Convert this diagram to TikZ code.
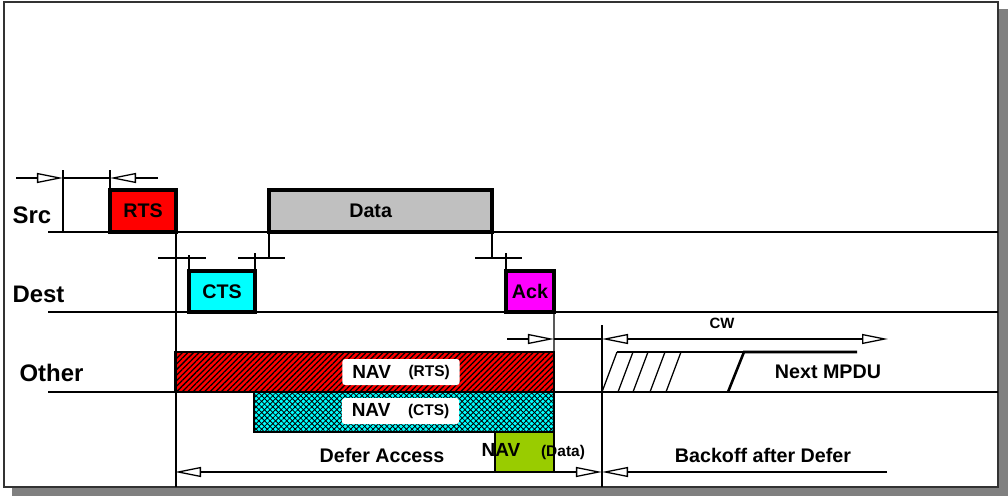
\documentclass[tikz,border=0pt]{standalone}
\usepackage{fontspec}
\setmainfont{Liberation Sans}
\usepackage{tikz}
\usetikzlibrary{arrows.meta, patterns.meta}

\definecolor{navgreen}{RGB}{153,204,0}
\definecolor{rtsred}{RGB}{255,0,0}
\definecolor{ctscyan}{RGB}{0,255,255}
\definecolor{ackmagenta}{RGB}{255,0,255}
\definecolor{datagray}{RGB}{192,192,192}
\definecolor{shadowgray}{RGB}{128,128,128}
\newcommand{\bigtxt}{\fontsize{14}{16}\selectfont\bfseries}
\newcommand{\smalltxt}[1]{{\fontsize{11}{13}\selectfont\bfseries #1}}

\tikzset{
  tri/.tip={Triangle[length=0.65cm, width=0.25cm, fill=white]},
  lane/.style={font=\fontsize{17}{20}\selectfont\bfseries, anchor=base west, inner sep=0pt},
  slotbox/.style={draw=black, line width=2.2pt, inner sep=0pt, outer sep=0pt, font=\bigtxt},
  navbox/.style={draw, line width=0.8pt, inner sep=0pt, outer sep=0pt},
  navtag/.style={fill=white, rounded corners=2pt, inner xsep=7pt, inner ysep=0pt,
    minimum height=0.65cm, font=\fontsize{13.5}{16}\selectfont\bfseries},
  txt/.style={font=\bigtxt, anchor=base, inner sep=0pt},
}

\begin{document}
\begin{tikzpicture}[x=0.025cm, y=-0.025cm, line width=0.9pt]

\useasboundingbox (0,0) rectangle (1008,496);
\fill[shadowgray] (12,9) rectangle (1008,496);
\draw[fill=white, draw=black!80, line width=1.4pt] (4,2) rectangle (998,487);

\coordinate (srcL) at (48,232);
\coordinate (srcR) at (998,232);
\coordinate (destL) at (48,312);
\coordinate (destR) at (998,312);
\coordinate (otherL) at (48,392);
\coordinate (otherR) at (998,392);
\draw (srcL) -- (srcR);
\draw (destL) -- (destR);
\draw (otherL) -- (otherR);

\node[lane] (src) at (12,223) {Src};
\node[lane] (dest) at (12,302) {Dest};
\node[lane] (other) at (19,381) {Other};

\node[slotbox, fill=rtsred, minimum width=1.65cm, minimum height=1.05cm] (rts) at (143,211) {RTS};
\node[slotbox, fill=ctscyan, minimum width=1.65cm, minimum height=1.025cm] (cts) at (222,291.5) {CTS};
\node[slotbox, fill=datagray, minimum width=5.575cm, minimum height=1.05cm] (data) at (380.5,211) {Data\kern14pt};
\node[slotbox, fill=ackmagenta, minimum width=1.2cm, minimum height=1.025cm] (ack) at (530,291.5) {Ack};

\node[navbox, fill=rtsred, postaction={pattern={Lines[angle=45, distance=2.8pt, line width=0.9pt]}},
  minimum width=9.475cm, minimum height=1cm] (navrts) at (364.5,372) {};
\node[navbox, fill=ctscyan, postaction={pattern={Lines[angle=45, distance=2.8pt, line width=0.6pt]}},
  postaction={pattern={Lines[angle=-45, distance=2.8pt, line width=0.6pt]}},
  minimum width=7.5cm, minimum height=1cm] (navcts) at (404,412) {};
\node[navbox, fill=navgreen, minimum width=1.475cm, minimum height=1cm] (navdata) at (524.5,452) {};

\node[navtag] (rtstag) at (401,372) {NAV\hspace{12.5pt}\raisebox{1.5pt}{\smalltxt{(RTS)}}};
\node[navtag] (ctstag) at (400.5,411) {NAV\hspace{12.5pt}\raisebox{1pt}{\smalltxt{(CTS)}}};
\node[txt, font=\fontsize{13.5}{16}\selectfont\bfseries] (datanav) at (501,456) {NAV};
\node[txt] (datanote) at (563,456) {\smalltxt{(Data)}};

\draw[-tri] (16,178) -- (63,178);
\draw (63,178) -- (110,178);
\draw[-tri] (158,178) -- (110,178);
\draw (63,170) -- (63,232);
\draw (rts.north west) -- ++(0,-20);

\draw (rts.south east) -- (rts.south east |- 0,487);
\draw (158,258) -- (206,258);
\draw (cts.north west) -- ++(0,-16);
\draw (238,258) -- (285,258);
\draw (cts.north east) -- ++(0,-18);
\draw (data.south west) -- ++(0,26);
\draw (data.south east) -- ++(0,26);
\draw (475,258) -- (522,258);
\draw (ack.north west) -- ++(0,-18);
\draw (ack.south east) -- (navdata.south east);

\draw[-tri] (507,339) -- (554,339);
\draw (554,339) -- (602,339);
\draw[tri-tri] (602,339) -- (888,339);
\node[txt, font=\fontsize{10.6}{12}\selectfont\bfseries] (cw) at (722,328) {CW};
\draw (602,325) -- (602,487);

\foreach \s in {602,618,633,650,666}
  \draw (\s,392) -- ++(15,-40);
\draw (617,352) -- (744,352);
\draw[line width=1.8pt] (728,392) -- (744,352) -- (857,352);
\node[txt] (next) at (828,378) {Next MPDU};

\draw[tri-tri] (175,472) -- (602,472);
\node[txt] (defer) at (382,462) {Defer Access};
\draw[-tri] (887,472) -- (602,472);
\node[txt] (backoff) at (763,462) {Backoff after Defer};

\end{tikzpicture}
\end{document}
